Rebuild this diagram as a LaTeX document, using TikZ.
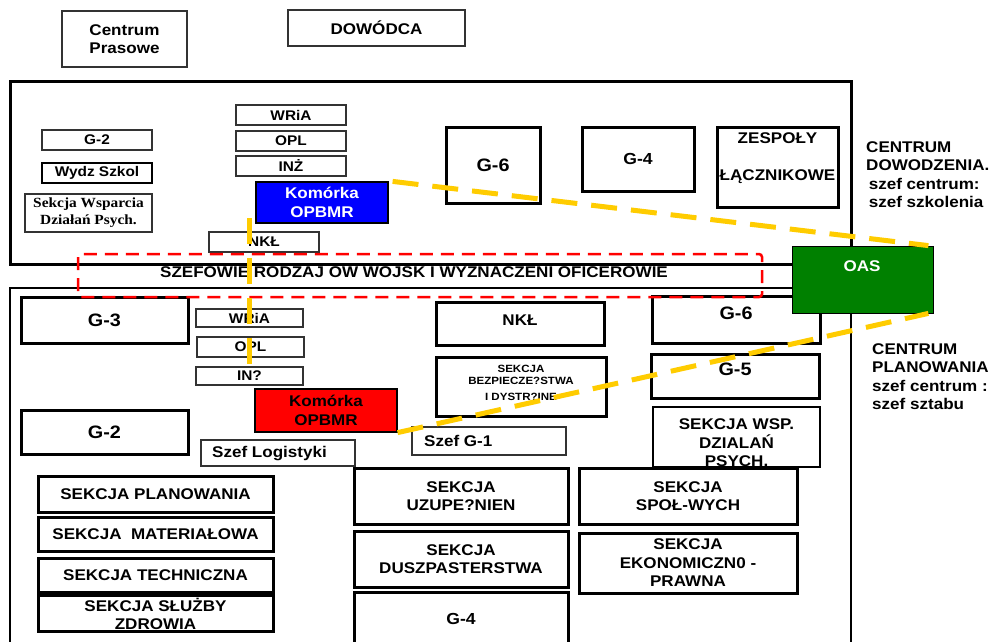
\documentclass[tikz,border=0pt]{standalone}
\usepackage{fontspec}
\setmainfont{Liberation Sans}[FakeStretch=1.1]
\newfontfamily\serifbold{Liberation Serif}[FakeStretch=1.1]
\usetikzlibrary{positioning}
\definecolor{oasgreen}{HTML}{008000}
\definecolor{cellblue}{HTML}{0000FF}
\definecolor{linkyellow}{HTML}{FFCC00}
\newcommand{\boxfont}[2]{\fontsize{#1}{#2}\selectfont\bfseries}

\begin{document}
\begin{tikzpicture}[x=1pt,y=-1pt,
  thinbox/.style={draw=black!80,line width=1.2pt,inner sep=0pt},
  midbox/.style={draw,line width=2pt,inner sep=0pt},
  thickbox/.style={draw,line width=3pt,inner sep=0pt},
  txt/.style={font=\boxfont{15.5}{18.5},align=center,inner sep=0pt},
  bigtxt/.style={font=\boxfont{18}{21},align=center,inner sep=0pt},
  smalltxt/.style={font=\boxfont{14}{17},align=center,inner sep=0pt},
  link/.style={linkyellow,line width=5pt,dash pattern=on 26pt off 14pt},
  chiefs/.style={red,line width=2.5pt,dash pattern=on 13pt off 8pt,rounded corners=3pt}]
\useasboundingbox (0,0) rectangle (991,642);
\clip (0,0) rectangle (991,642);
% top
\node (press) [thinbox,txt,minimum width=125pt,minimum height=56pt] at (124.5,39) {Centrum\\Prasowe};
\node (cmdr) [thinbox,txt,minimum width=177pt,minimum height=36pt] at (376.5,28) {DOWÓDCA};
%
% centrum dowodzenia
\draw[line width=3pt] (10,82) rectangle (851,264);
\node (g2u) [thinbox,smalltxt,minimum width=110pt,minimum height=20pt] at (97,140) {G-2};
\node (school) [midbox,smalltxt,minimum width=110pt,minimum height=20pt] at (97,173) {Wydz Szkol};
\node (psyu) [thinbox,font=\serifbold\fontsize{14}{17}\selectfont\bfseries,align=center,
  minimum width=127pt,minimum height=38pt] at (88.5,213) {Sekcja Wsparcia\\ Działań Psych.};
\node (wriau) [thinbox,smalltxt,minimum width=110pt,minimum height=20pt] at (291,115) {WRiA};
\node (oplu) [thinbox,smalltxt,minimum width=110pt,minimum height=20pt] at (291,141) {OPL};
\node (inzu) [thinbox,smalltxt,minimum width=110pt,minimum height=20pt] at (291,166) {INŻ};
\node (cellu) [thinbox,draw=black,fill=cellblue,text=white,txt,minimum width=132pt,minimum height=41pt] at (322,202.5) {Komórka\\OPBMR};
\node (nklu) [thinbox,smalltxt,minimum width=110pt,minimum height=20pt] at (264,242) {NKŁ};
\node (g6u) [thickbox,bigtxt,minimum width=94pt,minimum height=76pt] at (493,165) {G-6};
\node (g4u) [thickbox,font=\boxfont{16}{19},minimum width=112pt,minimum height=64pt] at (638,159) {G-4};
\node (liaison) [thickbox,minimum width=121pt,minimum height=80pt] at (777.5,167) {};
\node (liaisont) [txt] at (777.5,158) {ZESPOŁY\\[18pt]ŁĄCZNIKOWE};
\node (cdtxt) [txt,align=left,anchor=north west] at (866,141) {CENTRUM\\DOWODZENIA.\\ \,szef centrum:\\ \,szef szkolenia};
%
% szefowie
\draw[line width=2.5pt] (10,288) rectangle (851,660);
\node (chieftxt) [txt] at (414,272) {SZEFOWIE RODZAJ OW WOJSK I WYZNACZENI OFICEROWIE};
%
% centrum planowania
\node (g3) [thickbox,bigtxt,minimum width=167pt,minimum height=46pt] at (104.5,320) {G-3};
\node (wrial) [thinbox,smalltxt,minimum width=107pt,minimum height=18pt] at (249.5,318) {WRiA};
\node (opll) [thinbox,smalltxt,minimum width=107pt,minimum height=20pt] at (250.5,347) {OPL};
\node (inzl) [thinbox,smalltxt,minimum width=107pt,minimum height=18pt] at (249.5,376) {IN?};
\node (celll) [thinbox,draw=black,fill=red,txt,minimum width=142pt,minimum height=43pt] at (326,410.5) {Komórka\\OPBMR};
\node (g2l) [thickbox,bigtxt,minimum width=167pt,minimum height=44pt] at (104.5,432) {G-2};
\node (logi) [thinbox,minimum width=154pt,minimum height=26pt] at (278,453) {};
\node (logit) [txt,anchor=west] at (212,454) {Szef Logistyki};
\node (nkll) [thickbox,minimum width=168pt,minimum height=43pt] at (520,323.5) {};
\node (nkllt) [txt] at (520,320) {NKŁ};
\node (secur) [thickbox,minimum width=170pt,minimum height=59pt] at (521,386.5) {};
\node (secureu) [font=\boxfont{10.5}{12},align=center,inner sep=0pt] at (521,383) {SEKCJA\\BEZPIECZE?STWA\\[4pt]I DYSTR?INE};
\node (g1) [thinbox,minimum width=154pt,minimum height=28pt] at (489,441) {};
\node (g1t) [txt,anchor=west] at (424,441) {Szef G-1};
\node (g6l) [thickbox,minimum width=168pt,minimum height=47pt] at (736,319.5) {};
\node (g6lt) [bigtxt] at (736,313) {G-6};
\node (g5) [thickbox,minimum width=168pt,minimum height=44pt] at (735,376) {};
\node (g5t) [bigtxt] at (735,369) {G-5};
\node (psyl) [midbox,minimum width=167pt,minimum height=60pt] at (736.5,437) {};
\node (psylt) [txt,text depth=0pt] at (736.5,443) {SEKCJA WSP.\\DZIALAŃ\\PSYCH.};
\node (cptxt) [txt,align=left,anchor=north west] at (872,343) {CENTRUM\\PLANOWANIA\\szef centrum :\\szef sztabu};
%
\node (plan) [thickbox,txt,minimum width=235pt,minimum height=36pt] at (155.5,494) {SEKCJA PLANOWANIA};
\node (mat) [thickbox,txt,minimum width=235pt,minimum height=34pt] at (155.5,534) {SEKCJA\ \ MATERIAŁOWA};
\node (tech) [thickbox,txt,minimum width=235pt,minimum height=34pt] at (155.5,575) {SEKCJA TECHNICZNA};
\node (health) [thickbox,minimum width=235pt,minimum height=36pt] at (155.5,613) {};
\node (healtht) [txt] at (155.5,614) {SEKCJA SŁUŻBY\\ZDROWIA};
\node (supply) [thickbox,txt,minimum width=214pt,minimum height=56pt] at (461,496) {SEKCJA\\UZUPE?NIEN};
\node (chap) [thickbox,txt,minimum width=214pt,minimum height=56pt] at (461,559) {SEKCJA\\DUSZPASTERSTWA};
\node (g4l) [thickbox,minimum width=214pt,minimum height=58pt] at (461,621) {};
\node (g4lt) [font=\boxfont{16}{19}] at (461,619) {G-4};
\node (social) [thickbox,txt,minimum width=218pt,minimum height=56pt] at (688,496) {SEKCJA\\SPOŁ-WYCH};
\node (econ) [thickbox,txt,minimum width=218pt,minimum height=60pt] at (688,563) {SEKCJA\\EKONOMICZN0 -\\PRAWNA};
%
% OAS
\node (oas) [draw=black,line width=0.8pt,fill=oasgreen,minimum width=141pt,minimum height=67pt] at (862.5,279.5) {};
\node (oast) [txt,text=white] at (862,266) {OAS};
%
\draw[chiefs] (78,254) rectangle (762,297);
%
\coordinate (linktop) at (249,218);
\coordinate (linkbot) at (249,378);
\draw[link] (linktop) -- (linkbot);
\draw[link] ([xshift=4pt]cellu.north east) -- ([xshift=-5pt]oas.north east);
\draw[link] (celll.south east) -- ([xshift=-5pt]oas.south east);
\end{tikzpicture}
\end{document}
